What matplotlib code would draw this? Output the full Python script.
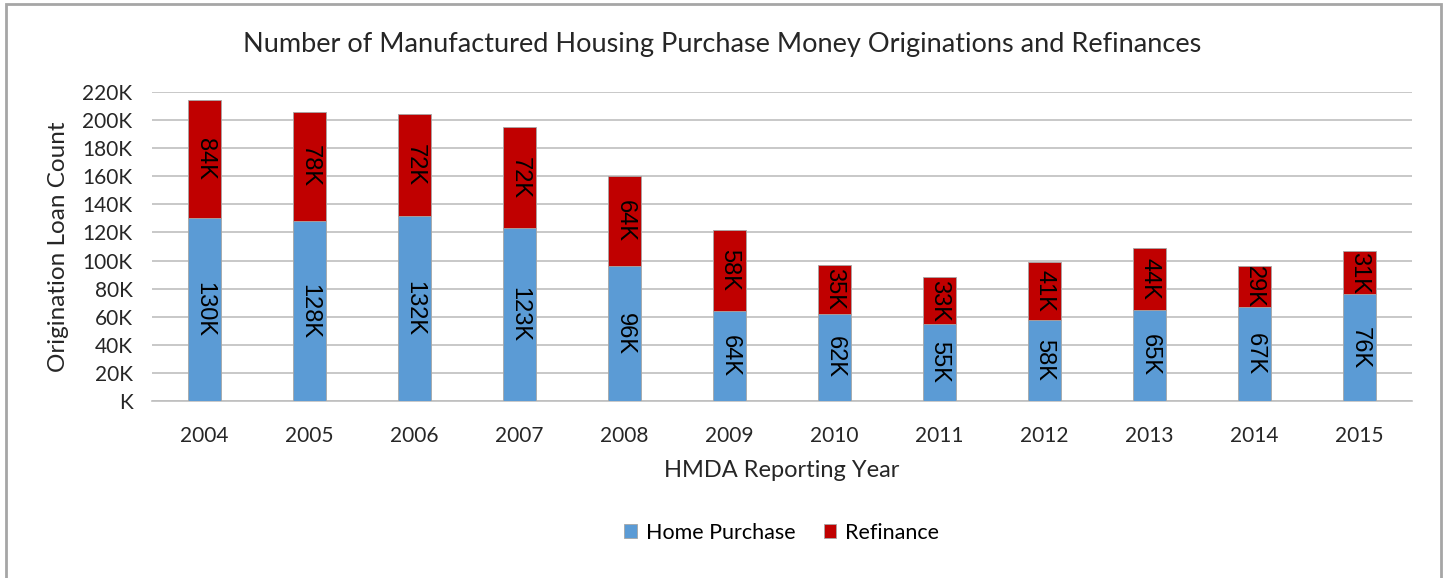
import matplotlib.pyplot as plt
from matplotlib.patches import Rectangle
from matplotlib.ticker import FuncFormatter
import numpy as np

plt.rcParams['font.family'] = ['Lato', 'DejaVu Sans']

years = ['2004', '2005', '2006', '2007', '2008', '2009',
         '2010', '2011', '2012', '2013', '2014', '2015']
home_purchase = [130, 128, 132, 123, 96, 64, 62, 55, 58, 65, 67, 76]
refinance = [84, 78, 72, 72, 64, 58, 35, 33, 41, 44, 29, 31]

blue = '#5b9bd5'
red = '#c00000'

fig = plt.figure(figsize=(14.45, 5.78), dpi=100)
ax = fig.add_axes([0.1052, 0.3063, 0.8718, 0.5345])

x = np.arange(len(years))
w = 0.31
ax.bar(x, home_purchase, w, color=blue, edgecolor='#a6a6a6', linewidth=0.6,
       label='Home Purchase', zorder=3)
ax.bar(x, refinance, w, bottom=home_purchase, color=red, edgecolor='#a6a6a6',
       linewidth=0.6, label='Refinance', zorder=3)

for i in range(len(years)):
    ax.text(x[i], home_purchase[i] / 2, f'{home_purchase[i]}K', rotation=270,
            ha='center', va='center', fontsize=17, family='Liberation Sans', zorder=4)
    ax.text(x[i], home_purchase[i] + refinance[i] / 2, f'{refinance[i]}K', rotation=270,
            ha='center', va='center', fontsize=17, family='Liberation Sans', zorder=4)

ax.set_ylim(0, 220)
ax.set_yticks(range(0, 221, 20))
ax.yaxis.set_major_formatter(FuncFormatter(lambda v, p: 'K' if v == 0 else f'{int(v)}K'))
ax.set_xlim(-0.5, len(years) - 0.5)
ax.set_xticks(x)
ax.set_xticklabels(years)
ax.grid(axis='y', color='#bfbfbf', linewidth=1.2, zorder=0)
for s in ['top', 'right', 'left']:
    ax.spines[s].set_visible(False)
ax.spines['bottom'].set_color('#bfbfbf')
ax.spines['bottom'].set_linewidth(1.2)
ax.tick_params(length=0, labelsize=15, colors='#262626', pad=14)
ax.tick_params(axis='x', pad=18)

ax.set_ylabel('Origination Loan Count', fontsize=17.5, color='#262626', labelpad=10)
ax.set_xlabel('HMDA Reporting Year', fontsize=17, color='#262626', labelpad=10)
fig.text(0.5, 0.923, 'Number of Manufactured Housing Purchase Money Originations and Refinances',
         ha='center', va='center', fontsize=19.5, color='#262626')

fig.legend(loc='center', bbox_to_anchor=(0.541, 0.078), ncol=2, frameon=False,
           fontsize=15.5, handlelength=0.6, handleheight=0.6, columnspacing=1.3,
           handletextpad=0.4)

fig.patches.append(Rectangle((6 / 1445, -0.01), (1441 - 6) / 1445, 1 - 4 / 578 + 0.01,
                             transform=fig.transFigure, fill=False,
                             edgecolor='#a6a6a6', linewidth=2))

plt.savefig('out.png')
